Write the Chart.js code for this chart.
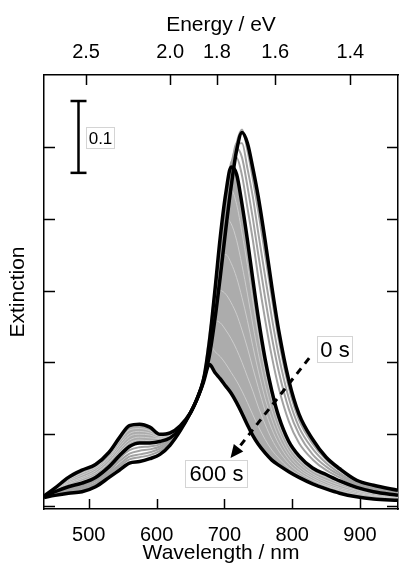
<!DOCTYPE html>
<html><head><meta charset="utf-8">
<script src="https://cdn.jsdelivr.net/npm/chart.js@4.4.1/dist/chart.umd.min.js"></script>
<style>html,body{margin:0;padding:0;background:#fff;}canvas{display:block;}</style>
</head><body>
<canvas id="c" width="399" height="564"></canvas>
<script>
// ---------- DATA ----------
const wavelengths = [434,450,470,490,510,530,545,560,575,590,605,620,635,650,660,669,678,686,694,702,710,718,726,734,742,750,760,770,780,795,810,830,850,870,895,920,956];

const spec0s   = [0.012,0.015,0.018,0.020,0.027,0.040,0.050,0.060,0.062,0.066,0.072,0.085,0.105,0.130,0.150,0.175,0.210,
                  0.260,0.320,0.385,0.445,0.495,0.520,0.505,0.470,0.430,0.370,0.305,0.245,0.175,0.128,0.093,0.068,0.052,0.036,0.029,0.022];
const specMid  = [0.013,0.020,0.027,0.032,0.040,0.055,0.070,0.083,0.088,0.088,0.090,0.095,0.108,0.130,0.150,0.175,0.230,
                  0.300,0.375,0.435,0.472,0.462,0.420,0.370,0.315,0.262,0.205,0.160,0.125,0.090,0.070,0.053,0.044,0.035,0.026,0.020,0.015];
const spec600s = [0.014,0.025,0.040,0.050,0.058,0.075,0.095,0.112,0.114,0.110,0.100,0.102,0.112,0.130,0.150,0.172,0.197,
                  0.186,0.177,0.167,0.157,0.144,0.129,0.113,0.098,0.086,0.074,0.064,0.057,0.048,0.040,0.031,0.024,0.018,0.013,0.010,0.008];

// grey spectra between 0 s and the middle black spectrum
const gray1 = [0.012,0.016,0.020,0.023,0.030,0.044,0.055,0.065,0.068,0.071,0.077,0.088,0.106,0.130,0.150,0.175,0.215,
               0.270,0.335,0.400,0.460,0.505,0.524,0.495,0.455,0.410,0.350,0.290,0.232,0.165,0.120,0.087,0.065,0.050,0.034,0.027,0.021];
const gray2 = [0.012,0.017,0.022,0.025,0.032,0.046,0.058,0.069,0.072,0.075,0.080,0.090,0.107,0.130,0.150,0.175,0.218,
               0.278,0.345,0.410,0.468,0.505,0.505,0.470,0.430,0.380,0.320,0.262,0.210,0.150,0.110,0.080,0.060,0.046,0.032,0.025,0.020];
const gray3 = [0.012,0.018,0.023,0.027,0.035,0.049,0.062,0.073,0.077,0.079,0.083,0.092,0.107,0.130,0.150,0.175,0.222,
               0.285,0.355,0.420,0.475,0.498,0.485,0.445,0.400,0.350,0.290,0.235,0.188,0.135,0.100,0.072,0.055,0.043,0.030,0.024,0.019];
const gray4 = [0.013,0.019,0.025,0.029,0.037,0.052,0.066,0.078,0.082,0.083,0.086,0.093,0.108,0.130,0.150,0.175,0.225,
               0.292,0.362,0.428,0.478,0.485,0.460,0.415,0.370,0.318,0.260,0.208,0.165,0.118,0.088,0.065,0.050,0.040,0.028,0.022,0.017];
// grey spectra between the middle black spectrum and 600 s
const late1 = [0.013,0.021,0.029,0.035,0.043,0.058,0.074,0.088,0.092,0.091,0.092,0.096,0.109,0.130,0.150,0.176,0.235,
               0.305,0.375,0.425,0.440,0.420,0.380,0.335,0.285,0.238,0.188,0.148,0.116,0.084,0.065,0.049,0.040,0.032,0.024,0.018,0.014];
const late2 = [0.013,0.022,0.031,0.038,0.046,0.061,0.078,0.092,0.096,0.095,0.094,0.097,0.109,0.130,0.151,0.178,0.240,
               0.310,0.372,0.400,0.393,0.370,0.335,0.295,0.252,0.212,0.168,0.133,0.106,0.077,0.060,0.045,0.036,0.029,0.022,0.017,0.013];
const late3 = [0.013,0.022,0.033,0.040,0.049,0.065,0.082,0.097,0.100,0.099,0.095,0.098,0.110,0.130,0.152,0.180,0.243,
               0.305,0.345,0.350,0.338,0.318,0.290,0.258,0.222,0.188,0.150,0.120,0.096,0.071,0.055,0.042,0.033,0.026,0.020,0.015,0.012];
const late4 = [0.014,0.023,0.035,0.043,0.052,0.068,0.086,0.101,0.104,0.102,0.097,0.099,0.110,0.130,0.152,0.180,0.245,
               0.285,0.300,0.295,0.283,0.267,0.245,0.220,0.192,0.165,0.133,0.107,0.087,0.065,0.051,0.039,0.030,0.024,0.018,0.014,0.011];
const late5 = [0.014,0.024,0.037,0.046,0.054,0.071,0.090,0.106,0.108,0.105,0.098,0.100,0.111,0.130,0.152,0.179,0.240,
               0.258,0.255,0.245,0.233,0.218,0.200,0.180,0.160,0.138,0.114,0.093,0.077,0.059,0.047,0.036,0.028,0.022,0.016,0.012,0.010];
const late6 = [0.014,0.025,0.039,0.048,0.056,0.073,0.093,0.110,0.112,0.108,0.099,0.101,0.112,0.130,0.151,0.176,0.225,
               0.215,0.208,0.198,0.186,0.174,0.160,0.144,0.127,0.111,0.093,0.078,0.067,0.053,0.043,0.033,0.026,0.020,0.015,0.011,0.009];

const wavelengthTicks = [500,600,700,800,900];
const energyTicks = [2.5,2.0,1.8,1.6,1.4];
const energyTickLabels = ['2.5','2.0','1.8','1.6','1.4'];
const extinctionTicks = [0,0.1,0.2,0.3,0.4,0.5];
const scaleBarSize = 0.1;
const timeLabels = ['0 s','600 s'];

// ---------- BUILD ----------
const FONT = "'Liberation Sans', Arial, sans-serif";
const pts = arr => arr.map((v,i)=>({x:wavelengths[i], y:v}));
function ds(arr, color, width, order, extra){
  return Object.assign({data:pts(arr), borderColor:color, borderWidth:width, pointRadius:0,
    cubicInterpolationMode:'monotone', fill:false, order:order}, extra||{});
}
const GRAY = '#a2a2a2', LIGHT = '#cdcdcd';
const datasets = [
  ds(spec600s,'#000',3.5,0,{fill:1, backgroundColor:'#acacac'}),
  ds(specMid,'#000',3.5,1),
  ds(spec0s,'#000',3.5,2),
  ds(gray1,GRAY,2,3), ds(gray2,GRAY,2,3), ds(gray3,GRAY,2,3), ds(gray4,GRAY,2,3),
  ds(late1,LIGHT,1,4), ds(late2,LIGHT,1,4), ds(late3,LIGHT,1,4),
  ds(late4,LIGHT,1,4), ds(late5,LIGHT,1,4), ds(late6,LIGHT,1,4)
];

function line(ctx,x1,y1,x2,y2){ctx.beginPath();ctx.moveTo(x1,y1);ctx.lineTo(x2,y2);ctx.stroke();}
function boxText(ctx,text,cx,cy,size,padX,h){
  ctx.save();
  ctx.font = size+'px '+FONT;
  const w = Math.round(ctx.measureText(text).width + 2*padX);
  const x0 = Math.round(cx - w/2)+0.5, y0 = Math.round(cy - h/2)+0.5;
  ctx.fillStyle='#fff'; ctx.fillRect(x0,y0,w,h);
  ctx.strokeStyle='#d4d4d4'; ctx.lineWidth=1; ctx.strokeRect(x0,y0,w,h);
  ctx.fillStyle='#000'; ctx.textAlign='center'; ctx.textBaseline='middle';
  ctx.fillText(text, x0+w/2, y0+h/2+1);
  ctx.restore();
}

const decor = {
  id:'decor',
  afterDraw(chart){
    const ctx=chart.ctx, a=chart.chartArea, x=chart.scales.x, xt=chart.scales.xTop, y=chart.scales.y;
    ctx.save();
    ctx.strokeStyle='#000'; ctx.lineWidth=1.5; ctx.setLineDash([]);
    wavelengthTicks.forEach(v=>{const p=Math.round(x.getPixelForValue(v))+0.5; line(ctx,p,a.bottom,p,a.bottom-10);});
    energyTicks.forEach(e=>{const p=Math.round(xt.getPixelForValue(1240/e))+0.5; line(ctx,p,a.top,p,a.top+10);});
    extinctionTicks.forEach(v=>{const p=Math.round(y.getPixelForValue(v))+0.5; line(ctx,a.left,p,a.left+11,p); line(ctx,a.right,p,a.right-11,p);});
    // scale bar (0.1 extinction)
    const bx = Math.round(x.getPixelForValue(484))+0.5;
    const b0 = y.getPixelForValue(0.4638), b1 = y.getPixelForValue(0.4638+scaleBarSize);
    ctx.strokeStyle='#000'; ctx.lineWidth=2.5;
    line(ctx,bx,b0,bx,b1); line(ctx,bx-8,b0,bx+8,b0); line(ctx,bx-8,b1,bx+8,b1);
    boxText(ctx,'0.1',x.getPixelForValue(517),y.getPixelForValue(0.5125),17,2,21);
    // dashed time arrow
    const ax1=x.getPixelForValue(825), ay1=y.getPixelForValue(0.206);
    const ax2=x.getPixelForValue(709), ay2=y.getPixelForValue(0.067);
    const ang=Math.atan2(ay2-ay1,ax2-ax1), L=13, Wd=6;
    const bxE=ax2-L*Math.cos(ang), byE=ay2-L*Math.sin(ang);
    ctx.strokeStyle='#000'; ctx.lineWidth=3; ctx.setLineDash([7,6]);
    line(ctx,ax1,ay1,bxE,byE);
    ctx.setLineDash([]);
    ctx.fillStyle='#000'; ctx.beginPath();
    ctx.moveTo(ax2,ay2);
    ctx.lineTo(bxE+Wd*Math.sin(ang), byE-Wd*Math.cos(ang));
    ctx.lineTo(bxE-Wd*Math.sin(ang), byE+Wd*Math.cos(ang));
    ctx.closePath(); ctx.fill();
    boxText(ctx,timeLabels[0],x.getPixelForValue(862),y.getPixelForValue(0.2187),22,3,26);
    boxText(ctx,timeLabels[1],x.getPixelForValue(687),y.getPixelForValue(0.0453),22,4,27);
    ctx.restore();
  }
};

new Chart(document.getElementById('c'),{
  type:'line',
  data:{datasets},
  plugins:[decor],
  options:{
    responsive:false, animation:false, events:[],
    layout:{padding:0},
    plugins:{legend:{display:false}, tooltip:{enabled:false}, filler:{drawTime:'beforeDatasetsDraw'}},
    scales:{
      x:{type:'linear', position:'bottom', min:434, max:956,
        grid:{display:false}, border:{display:true,color:'#000',width:1.5},
        afterBuildTicks:s=>{s.ticks=wavelengthTicks.map(v=>({value:v}));},
        afterFit:s=>{s.height=55;},
        ticks:{autoSkip:false,maxRotation:0,padding:6,color:'#000',font:{family:FONT,size:20}},
        title:{display:true,text:'Wavelength / nm',color:'#000',font:{family:FONT,size:21,lineHeight:1},padding:{top:0,bottom:0}}},
      xTop:{type:'linear', position:'top', min:434, max:956,
        grid:{display:false}, border:{display:true,color:'#000',width:1.5},
        afterBuildTicks:s=>{s.ticks=energyTicks.map(e=>({value:1240/e}));},
        afterFit:s=>{s.height=75;},
        ticks:{autoSkip:false,maxRotation:0,padding:3,color:'#000',font:{family:FONT,size:20},
          callback:(v,i)=>energyTickLabels[i]},
        title:{display:true,text:'Energy / eV',color:'#000',font:{family:FONT,size:21,lineHeight:1},padding:{top:15,bottom:0}}},
      y:{type:'linear', position:'left', min:-0.004, max:0.6,
        grid:{display:false}, border:{display:true,color:'#000',width:1.5},
        ticks:{display:false},
        afterFit:s=>{s.width=44;},
        title:{display:true,text:'Extinction',color:'#000',font:{family:FONT,size:21,lineHeight:1},padding:{top:8,bottom:0}}},
      y2:{type:'linear', position:'right', min:-0.004, max:0.6,
        grid:{display:false}, border:{display:true,color:'#000',width:1.5},
        ticks:{display:false}, afterFit:s=>{s.width=1;}}
    }
  }
});
</script>
</body></html>
